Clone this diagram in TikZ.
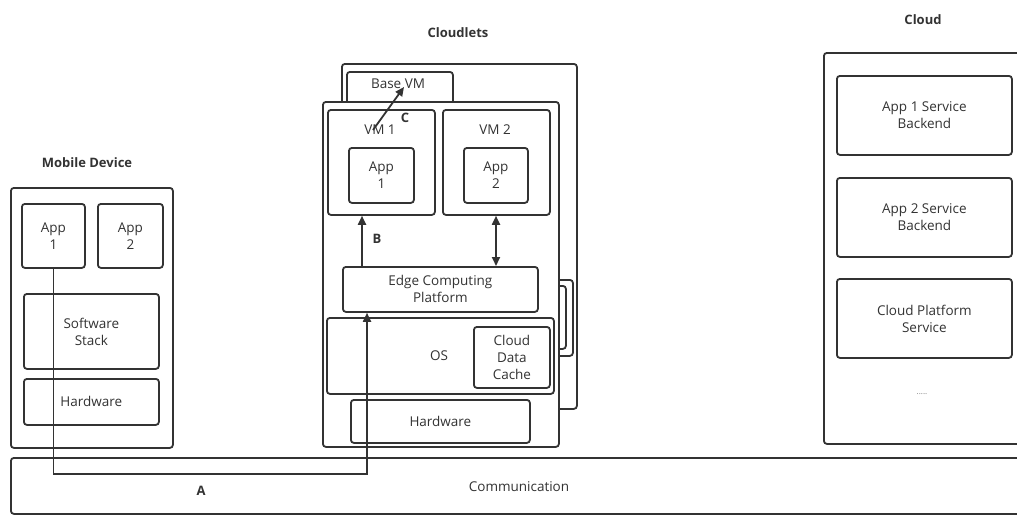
\documentclass[tikz,border=0pt]{standalone}
\usepackage{fontspec}
\setmainfont{Open Sans}
\usetikzlibrary{arrows.meta}
\definecolor{lc}{HTML}{333333}
\definecolor{tc}{HTML}{333333}
\tikzset{
  box/.style={draw=lc, line width=1.8pt, rounded corners=3pt, fill=white, anchor=north west, inner sep=0pt, align=center, text=tc, font=\fontsize{13.5}{17}\selectfont},
  txt/.style={text=tc, font=\fontsize{13.5}{17}\selectfont, inner sep=0pt, align=center},
  ttl/.style={text=tc, font=\fontsize{13}{16}\selectfont\bfseries, inner sep=0pt},
  lbl/.style={text=tc, font=\fontsize{13}{16}\selectfont\bfseries, inner sep=0pt},
  conn/.style={draw=lc, line width=1.8pt},
  arr/.style={conn, -{Triangle[length=9pt,width=8pt]}},
  darr/.style={conn, {Triangle[length=9pt,width=8pt]}-{Triangle[length=9pt,width=8pt]}},
}
\begin{document}
\begin{tikzpicture}[x=1pt,y=-1pt]
\useasboundingbox[fill=white] (0,0) rectangle (1017,514);
% titles
\node[ttl] (tmob) at (87,163) {Mobile Device};
\node[ttl] (tcl) at (458,33) {Cloudlets};
\node[ttl] (tcloud) at (923,20) {Cloud};
% mobile device
\node[box, minimum width=162pt, minimum height=260pt] (mob) at (10,187) {};
\node[box, minimum width=63pt, minimum height=64pt] (mapp1) at (21,203) {App\\1};
\node[box, minimum width=65pt, minimum height=64pt] (mapp2) at (97,203) {App\\2};
\node[box, minimum width=135pt, minimum height=75pt] (msoft) at (23,293) {Software\\Stack};
\node[box, minimum width=135pt, minimum height=46pt] (mhw) at (23,378) {Hardware};
% cloudlets
\node[box, minimum width=235pt, minimum height=345pt] (cback) at (341,63) {};
\node[box, minimum width=106pt, minimum height=40pt] (basevm) at (346,71) {};
\node[txt] (tbasevm) at (398,84) {Base VM};
\node[box, minimum width=42pt, minimum height=76pt] (side1) at (530,279) {};
\node[box, minimum width=35pt, minimum height=63pt] (side2) at (530,285) {};
\node[box, minimum width=236pt, minimum height=345pt] (cfront) at (322,101) {};
\node[box, minimum width=107pt, minimum height=105pt] (vm1) at (327,109) {};
\node[txt] (tvm1) at (380,130) {VM 1};
\node[box, minimum width=107pt, minimum height=105pt] (vm2) at (442,109) {};
\node[txt] (tvm2) at (495,130) {VM 2};
\node[box, minimum width=65pt, minimum height=55pt] (capp1) at (348,147) {App\\1};
\node[box, minimum width=64pt, minimum height=55pt] (capp2) at (463,147) {App\\2};
\node[box, minimum width=195pt, minimum height=45pt] (edge) at (342,266) {Edge Computing\\Platform};
\node[box, minimum width=227pt, minimum height=76pt] (os) at (326,317) {};
\node[txt] (tos) at (439,356) {OS};
\node[box, minimum width=76pt, minimum height=61pt] (cache) at (473,326) {Cloud\\Data\\Cache};
\node[box, minimum width=179pt, minimum height=43pt] (chw) at (350,399) {Hardware};
% cloud
\node[box, minimum width=220pt, minimum height=391pt] (cloud) at (823,52) {};
\node[box, minimum width=175pt, minimum height=79pt] (b1) at (836,75) {App 1 Service\\Backend};
\node[box, minimum width=175pt, minimum height=79pt] (b2) at (836,177) {App 2 Service\\Backend};
\node[box, minimum width=175pt, minimum height=79pt] (b3) at (836,278) {Cloud Platform\\Service};
\node[txt, text=gray, font=\fontsize{8}{10}\selectfont] (dots) at (922,394) {.....};
% communication
\node[box, minimum width=1030pt, minimum height=56pt] (comm) at (10,457) {};
\node[txt] (tcomm) at (519,487) {Communication};
% connectors
\coordinate (a2) at (367,474);
\draw[arr] (mapp1.south) |- (a2) -- (a2 |- edge.south);
\node[lbl] (la) at (201,491) {A};
\coordinate (bx) at (362,0);
\draw[arr] (bx |- edge.north) -- (bx |- vm1.south);
\node[lbl] (lb) at (377,239) {B};
\coordinate (dx) at (496,0);
\draw[darr] (dx |- vm2.south) -- (dx |- edge.north);
\coordinate (c1) at (373,130);
\coordinate (c2) at (404,87);
\draw[arr] (c1) -- (c2);
\node[lbl] (lc) at (405,118) {C};
\end{tikzpicture}
\end{document}
